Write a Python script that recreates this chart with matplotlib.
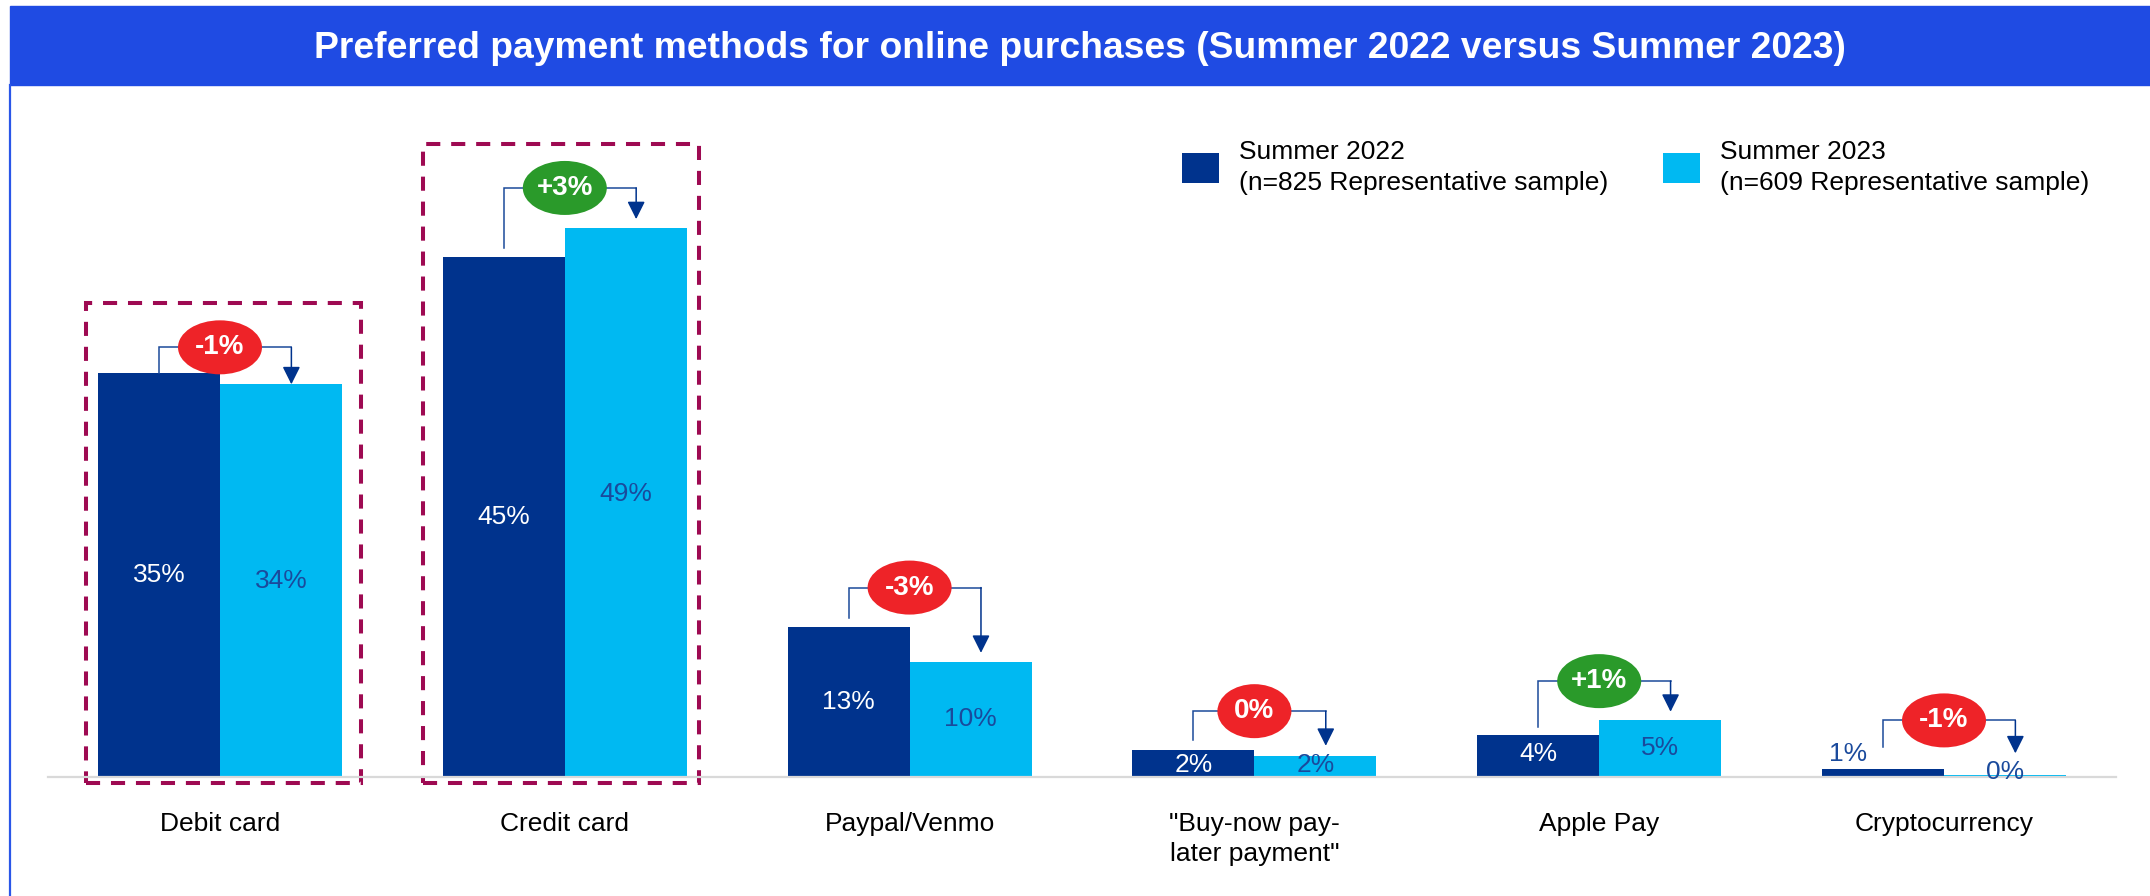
import numpy as np
import matplotlib
matplotlib.use("Agg")
import matplotlib.pyplot as plt
from matplotlib.patches import Rectangle, Ellipse
from matplotlib.lines import Line2D

plt.rcParams['font.family'] = ['Liberation Sans', 'DejaVu Sans']

# data
categories = ["Debit card", "Credit card", "Paypal/Venmo",
              "\"Buy-now pay-\nlater payment\"", "Apple Pay", "Cryptocurrency"]
bars_2022 = [35, 45, 13, 2.3, 3.6, 0.7]
bars_2023 = [34, 47.5, 10, 1.8, 4.9, 0.15]
labels_2022 = [35, 45, 13, 2, 4, 1]
labels_2023 = [34, 49, 10, 2, 5, 0]
changes = ["-1%", "+3%", "-3%", "0%", "+1%", "-1%"]
series_names = ["Summer 2022\n(n=825 Representative sample)",
                "Summer 2023\n(n=609 Representative sample)"]
highlighted = [0, 1]

# style
navy = '#00338D'
sky = '#00B9F2'
label_blue = '#1A4A9C'
line_blue = '#1B4A9A'
red = '#EE2328'
green = '#2A9A2A'
maroon = '#9E0A52'
bracket_pad = [2.2, 3.5, 3.4, 3.4, 3.4, 4.2]
end_gap = [0.0, 0.8, 0.75, 0.9, 0.75, 1.9]
box_shift = [0.01, -0.01]

W, H = 2150, 896
fig = plt.figure(figsize=(W / 100, H / 100), dpi=100)

# title band and left frame line
fig.patches.append(Rectangle((10 / W, 1 - 85 / H), 2140 / W, 79 / H,
                             transform=fig.transFigure, color='#1F4BE3', zorder=0))
fig.lines.append(Line2D([10 / W, 10 / W], [0, 1 - 85 / H], transform=fig.transFigure,
                       color='#2A56E8', lw=1.6))
fig.text(1080 / W, 1 - 48 / H,
         "Preferred payment methods for online purchases (Summer 2022 versus Summer 2023)",
         ha='center', va='center', color='white', fontsize=26.8, fontweight='bold')

ax = fig.add_axes([47.6 / W, 119 / H, 2068.8 / W, 693 / H])
x = np.arange(len(categories))
w = 0.354
ax.bar(x - w / 2, bars_2022, w, color=navy, label=series_names[0])
ax.bar(x + w / 2, bars_2023, w, color=sky, label=series_names[1])
ax.set_xlim(-0.5, 5.5)
ax.set_ylim(0, 60)
# pixel -> data scale for the badges
px_x = 5.0 / (344.8 * 5)
px_y = 60 / 693

for s in ['top', 'right', 'left']:
    ax.spines[s].set_visible(False)
ax.spines['bottom'].set_color('#D9D9D9')
ax.spines['bottom'].set_linewidth(1.6)
ax.set_yticks([])
ax.set_xticks(x, categories)
ax.tick_params(axis='x', length=0, pad=25, labelsize=19)
for t in ax.get_xticklabels():
    t.set_linespacing(1.35)

# value labels
for i in range(len(x)):
    if bars_2022[i] < 1:
        ax.text(x[i] - w / 2 - 0.1, bars_2022[i] + 1.3, f"{labels_2022[i]}%",
                ha='center', va='center', fontsize=19, color=label_blue)
    else:
        ax.text(x[i] - w / 2, labels_2022[i] / 2, f"{labels_2022[i]}%",
                ha='center', va='center', fontsize=19, color='white')
    ax.text(x[i] + w / 2, max(labels_2023[i] / 2, 0.45), f"{labels_2023[i]}%",
            ha='center', va='center', fontsize=19, color=label_blue)

# change brackets and badges
for i in range(len(x)):
    top = max(bars_2022[i], bars_2023[i]) + bracket_pad[i]
    xl = x[i] - w / 2
    xr = x[i] + w / 2 + 0.03
    ax.plot([xl, xl, xr], [bars_2022[i] + end_gap[i], top, top],
            color=line_blue, lw=1.1, solid_joinstyle='miter', clip_on=False)
    ax.annotate('', xy=(xr, bars_2023[i] + end_gap[i]), xytext=(xr, top),
                arrowprops=dict(arrowstyle='-|>', color=navy, lw=1.1,
                                mutation_scale=27, shrinkA=0, shrinkB=0))
    badge = green if changes[i].startswith('+') else red
    bw = 84 if len(changes[i]) == 3 else 74
    ax.add_patch(Ellipse((x[i], top), bw * px_x, 54 * px_y, fc=badge, ec='none',
                         clip_on=False, zorder=4))
    ax.text(x[i], top, changes[i], ha='center', va='center', fontsize=20,
            fontweight='bold', color='white', zorder=5)

# dashed highlight boxes
for k, i in enumerate(highlighted):
    top = max(bars_2022[i], bars_2023[i]) + bracket_pad[i] + 3.8
    ax.add_patch(Rectangle((x[i] - 0.4 + box_shift[k], -0.52), 0.8, top + 0.52,
                           fill=False, ec=maroon, lw=2.9, ls=(0, (3.5, 2.7)),
                           clip_on=False))

leg = ax.legend(loc='upper left', bbox_to_anchor=(1182 / W, 1 - 140 / H),
                bbox_transform=fig.transFigure, ncol=2, frameon=False, fontsize=19,
                handlelength=1.4, handleheight=1.33, handletextpad=0.75,
                columnspacing=2.1, borderpad=0, borderaxespad=0)
for t in leg.get_texts():
    t.set_linespacing(1.35)

fig.savefig('out.png', dpi=100)
